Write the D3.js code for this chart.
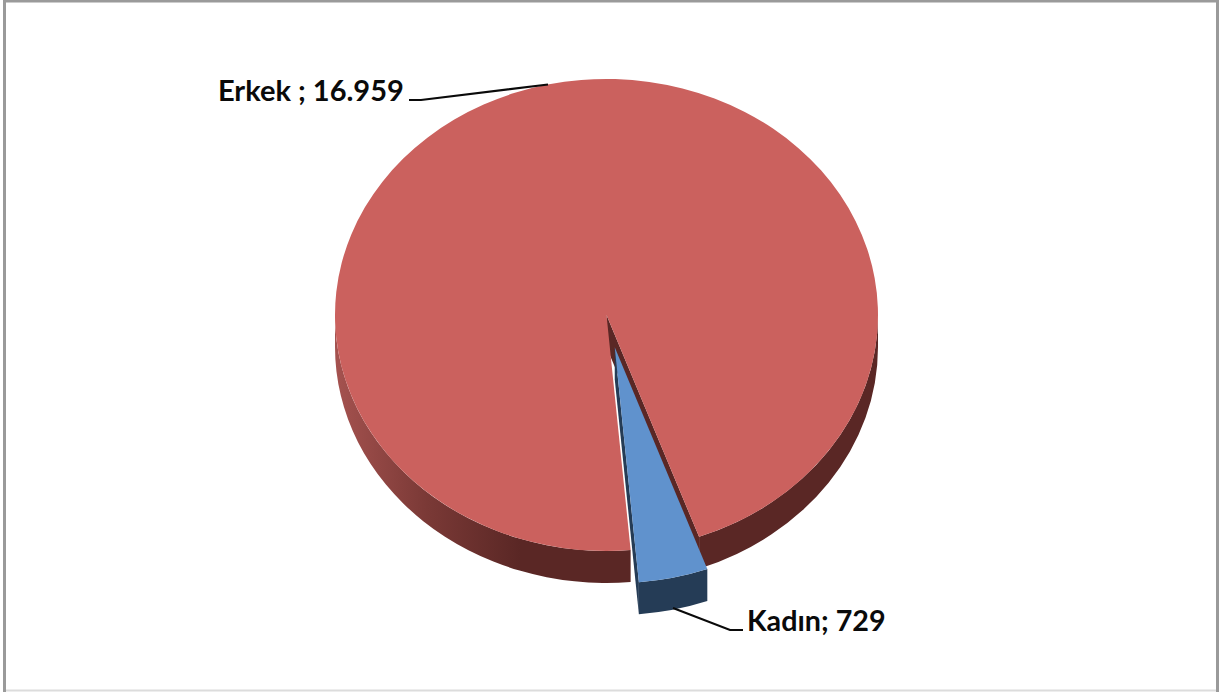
<!DOCTYPE html>
<html><head><meta charset="utf-8">
<script src="https://cdn.jsdelivr.net/npm/d3@7"></script>
<style>html,body{margin:0;padding:0;background:#fff}svg{display:block}text{font-family:Lato,sans-serif;font-weight:700;fill:#0a0a0a}</style>
</head><body><svg id="c" width="1219" height="692"></svg>
<script>
const categories = ["Erkek", "Kadın"];
const seriesValues = [16959, 729];
const labelTexts = ["Erkek ; 16.959", "Kadın; 729"];
const colors = {Erkek:"#cb615e", Kadın:"#6092cd"};
const rimColors = {Erkek:"#5a2725", Kadın:"#253c56"};

const W=1219,H=692,cx=606.5,cy=315,rx=271.5,ry=236,depth=32,explode=38;
const svg=d3.select("#c");
const frame=svg.append("g").attr("fill","none");
frame.append("path").attr("d",d3.line()([[4.5,H],[4.5,1],[W-1.5,1],[W-1.5,H]])).attr("stroke","#9a9a9a").attr("stroke-width",3);
frame.append("path").attr("d",d3.line()([[6,H-1.5],[W-3,H-1.5]])).attr("stroke","#dcdcdc").attr("stroke-width",2);
const rad=d=>d*Math.PI/180;
const pie=d3.pie().sort(null).startAngle(rad(174.9)).endAngle(rad(174.9+360));
const arcs=pie(seriesValues);
const grad=svg.append("defs").append("linearGradient").attr("id","rimGrad").attr("gradientUnits","userSpaceOnUse").attr("x1",335).attr("x2",520).attr("y1",0).attr("y2",0);
grad.append("stop").attr("offset",0).attr("stop-color","#a5524f");
grad.append("stop").attr("offset",.5).attr("stop-color","#7a3936");
grad.append("stop").attr("offset",1).attr("stop-color","#5a2725");

const pt=(a,ox=0,oy=0)=>[cx+ox+rx*Math.sin(a),cy+oy-ry*Math.cos(a)];
function sector(a0,a1,ox,oy){
  const c=[cx+ox,cy+oy],s=pt(a0,ox,oy),e=pt(a1,ox,oy);
  const large=(a1-a0)>Math.PI?1:0;
  return `M${c}L${s}A${rx},${ry} 0 ${large} 1 ${e}Z`;
}
function rim(a0,a1,ox,oy){
  const s=pt(a0,ox,oy),e=pt(a1,ox,oy),s2=pt(a0,ox,oy+depth),e2=pt(a1,ox,oy+depth);
  return `M${s}A${rx},${ry} 0 0 1 ${e}L${e2}A${rx},${ry} 0 0 0 ${s2}Z`;
}
function wall(a,ox,oy){
  const c=[cx+ox,cy+oy],c2=[cx+ox,cy+oy+depth],e=pt(a,ox,oy),e2=pt(a,ox,oy+depth);
  return `M${c}L${e}L${e2}L${c2}Z`;
}
const red=arcs[0],blue=arcs[1];
const g=svg.append("g");
g.append("path").attr("d",wall(blue.startAngle,0,0)).attr("fill",rimColors.Erkek);
g.append("path").attr("d",rim(rad(90),blue.startAngle,0,0)).attr("fill",rimColors.Erkek);
g.append("path").attr("d",rim(red.startAngle,rad(270),0,0)).attr("fill","url(#rimGrad)");
g.append("path").attr("d",sector(red.startAngle,red.endAngle,0,0)).attr("fill",colors.Erkek);
const mid=(blue.startAngle+blue.endAngle)/2;
const ox=explode*Math.sin(mid),oy=-explode*Math.cos(mid)*ry/rx;
g.append("path").attr("d",wall(blue.endAngle,ox,oy)).attr("fill",rimColors.Kadın);
g.append("path").attr("d",rim(blue.startAngle,blue.endAngle,ox,oy)).attr("fill",rimColors.Kadın);
g.append("path").attr("d",sector(blue.startAngle,blue.endAngle,ox,oy)).attr("fill",colors.Kadın);

const line=d3.line();
svg.append("path").attr("d",line([[409,100],[421,100],[548,84.5]])).attr("fill","none").attr("stroke","#0a0a0a").attr("stroke-width",2.2);
svg.append("path").attr("d",line([[673,608],[730,630],[743,630]])).attr("fill","none").attr("stroke","#0a0a0a").attr("stroke-width",2.2);
svg.append("text").attr("x",218).attr("y",101).attr("font-size",29).text(labelTexts[0]);
svg.append("text").attr("x",747).attr("y",631).attr("font-size",28.7).text(labelTexts[1]);
</script></body></html>
